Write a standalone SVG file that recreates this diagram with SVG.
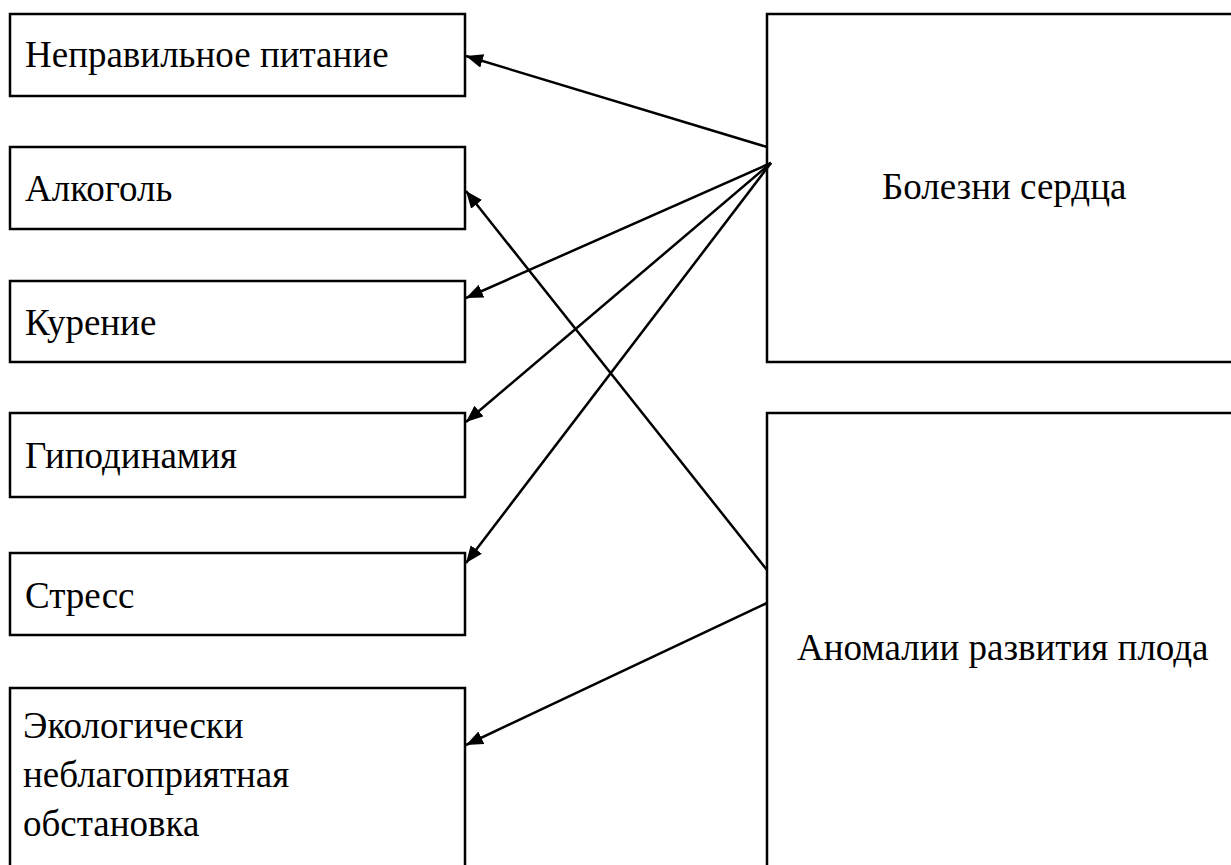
<svg xmlns="http://www.w3.org/2000/svg" width="1231" height="865" viewBox="0 0 1231 865">
<defs>
<style>
.box{fill:#fff;stroke:#000;stroke-width:2.5}
.t{font-family:"Liberation Serif","Times New Roman",serif;font-size:37px;fill:#000}
.c{stroke:#000;stroke-width:2.5;fill:none;marker-end:url(#ah)}
</style>
<marker id="ah" markerUnits="userSpaceOnUse" markerWidth="20" markerHeight="16" refX="17" refY="7" orient="auto">
<path d="M0,0 L17,7 L0,14 z" fill="#000"/>
</marker>
</defs>
<rect width="1231" height="865" fill="#fff"/>
<g id="n1"><rect class="box" x="10" y="14" width="455" height="82"/><text class="t" x="25" y="67">Неправильное питание</text></g>
<g id="n2"><rect class="box" x="10" y="147" width="455" height="82"/><text class="t" x="25" y="201">Алкоголь</text></g>
<g id="n3"><rect class="box" x="10" y="281" width="455" height="81"/><text class="t" x="25" y="335">Курение</text></g>
<g id="n4"><rect class="box" x="10" y="413" width="455" height="84"/><text class="t" x="25" y="468">Гиподинамия</text></g>
<g id="n5"><rect class="box" x="10" y="553" width="455" height="82"/><text class="t" x="25" y="608">Стресс</text></g>
<g id="n6"><rect class="box" x="10" y="688" width="455" height="200"/><text class="t" x="23" y="738">Экологически</text><text class="t" x="23" y="787">неблагоприятная</text><text class="t" x="23" y="836">обстановка</text></g>
<g id="n7"><rect class="box" x="767" y="14" width="480" height="348"/><text class="t" x="882" y="199">Болезни сердца</text></g>
<g id="n8"><rect class="box" x="767" y="413" width="480" height="480"/><text class="t" x="797" y="660">Аномалии развития плода</text></g>
<g id="connectors">
<line class="c" x1="767" y1="147" x2="466" y2="56"/>
<line class="c" x1="771" y1="163" x2="466" y2="298"/>
<line class="c" x1="771" y1="163" x2="466" y2="422"/>
<line class="c" x1="771" y1="163" x2="466" y2="563"/>
<line class="c" x1="767" y1="570" x2="466" y2="191"/>
<line class="c" x1="767" y1="603" x2="466" y2="745"/>
</g>
</svg>
